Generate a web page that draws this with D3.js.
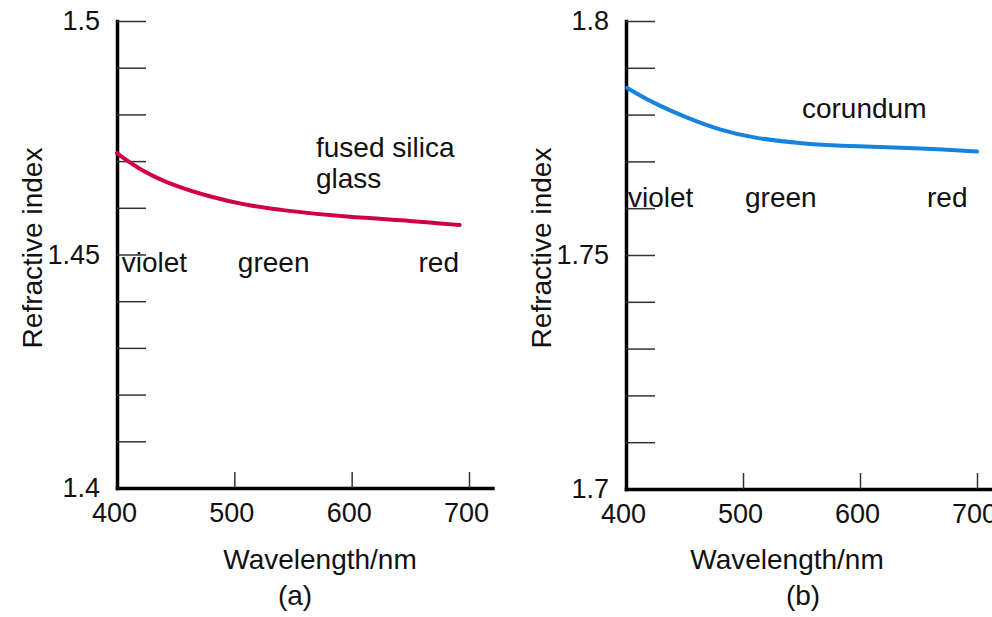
<!DOCTYPE html>
<html lang="en">
<head>
<meta charset="UTF-8">
<title>Refractive index vs wavelength</title>
<script src="https://d3js.org/d3.v7.min.js"></script>
<style>
html, body { margin: 0; padding: 0; background: white; }
svg { display: block; font-family: 'Liberation Sans', Arial, sans-serif; }
.axis .domain { stroke: black; stroke-width: 3.5; stroke-linecap: square; }
.axis line { stroke: #333; stroke-width: 1.5; }
.axis text { font-size: 27px; fill: #111; font-family: 'Liberation Sans', Arial, sans-serif; }
.lbl { font-size: 28px; fill: #111; }
</style>
</head>
<body>
<div id="chart"></div>
<script>

// --------------------------------------
// Data
// --------------------------------------

let wavelengthsA = [400, 422, 451, 479, 507, 539, 596, 652, 692];
let indexA = [1.4717, 1.4677, 1.4645, 1.4624, 1.4607, 1.4595, 1.4580, 1.4572, 1.4563];

let wavelengthsB = [401, 423, 452, 480, 509, 549, 597, 654, 700];
let indexB = [1.7857, 1.7825, 1.7793, 1.7767, 1.7750, 1.7738, 1.7732, 1.7728, 1.7721];

let xTicks = [400, 500, 600, 700];
let yTicksA = [1.40, 1.41, 1.42, 1.43, 1.44, 1.45, 1.46, 1.47, 1.48, 1.49, 1.50];
let yLabelsA = [1.4, 1.45, 1.5];
let yTicksB = [1.70, 1.71, 1.72, 1.73, 1.74, 1.75, 1.76, 1.77, 1.78, 1.79, 1.80];
let yLabelsB = [1.7, 1.75, 1.8];

// colour names placed in data units
let colourNames = ["violet", "green", "red"];
let colourPosA = [404, 503, 657];
let colourPosB = [401.7, 501.7, 657.3];

// --------------------------------------
// SVG
// --------------------------------------

let totalWidth = 992, totalHeight = 617;

let svg = d3.select("#chart").append("svg")
  .attr("width", totalWidth)
  .attr("height", totalHeight);

function panel(opt) {
  let x = d3.scaleLinear().domain([400, 720]).range([opt.left, opt.left + 320 * opt.pxPerNm]);
  let y = d3.scaleLinear().domain(opt.yDomain).range([opt.bottom, 21]);

  // y axis, ticks pointing inward
  svg.append("g")
    .attr("class", "axis")
    .attr("transform", `translate(${opt.left},0)`)
    .call(d3.axisLeft(y)
      .tickValues(opt.yTicks)
      .tickSizeInner(-29)
      .tickSizeOuter(0)
      .tickPadding(17)
      .tickFormat(d => opt.yLabels.some(v => Math.abs(v - d) < 1e-9) ? String(d) : ""));

  // x axis, ticks pointing up
  let xa = svg.append("g")
    .attr("class", "axis")
    .attr("transform", `translate(0,${opt.bottom})`)
    .call(d3.axisBottom(x)
      .tickValues(xTicks)
      .tickSizeInner(-16)
      .tickSizeOuter(0)
      .tickPadding(15)
      .tickFormat(d3.format("d")));
  xa.selectAll(".tick text").attr("dx", -3);
  xa.selectAll(".tick").filter(d => d === 400).select("line").remove();

  // curve
  let pts = opt.wl.map((w, i) => [w, opt.n[i]]);
  svg.append("path")
    .datum(pts)
    .attr("fill", "none")
    .attr("stroke", opt.color)
    .attr("stroke-width", 4)
    .attr("stroke-linecap", "round")
    .attr("d", d3.line().x(d => x(d[0])).y(d => y(d[1])).curve(d3.curveBasis));

  // colour names
  svg.selectAll(null)
    .data(colourNames)
    .join("text")
    .attr("class", "lbl")
    .attr("x", (d, i) => x(opt.colourPos[i]))
    .attr("y", y(opt.colourY))
    .text(d => d);

  // material name
  opt.material.forEach((m, i) => {
    svg.append("text")
      .attr("class", "lbl")
      .attr("x", x(opt.materialPos[0]))
      .attr("y", y(opt.materialPos[1]) + i * 31)
      .text(m);
  });

  // axis titles
  svg.append("text")
    .attr("class", "lbl")
    .attr("text-anchor", "middle")
    .attr("transform", `translate(${opt.left - 75},${248}) rotate(-90)`)
    .text("Refractive index");

  svg.append("text")
    .attr("class", "lbl")
    .attr("text-anchor", "middle")
    .attr("x", opt.xTitle)
    .attr("y", 569)
    .text("Wavelength/nm");

  svg.append("text")
    .attr("class", "lbl")
    .attr("text-anchor", "middle")
    .attr("x", opt.capX)
    .attr("y", 605)
    .text(opt.caption);
}

panel({
  left: 117, bottom: 488, pxPerNm: 1.1733,
  yDomain: [1.4, 1.5], yTicks: yTicksA, yLabels: yLabelsA,
  wl: wavelengthsA, n: indexA, color: "#cf0048",
  colourPos: colourPosA, colourY: 1.4463,
  material: ["fused silica", "glass"], materialPos: [569.6, 1.4709],
  xTitle: 320, capX: 295, caption: "(a)"
});

panel({
  left: 626, bottom: 489, pxPerNm: 1.17,
  yDomain: [1.7, 1.8], yTicks: yTicksB, yLabels: yLabelsB,
  wl: wavelengthsB, n: indexB, color: "#1683dc",
  colourPos: colourPosB, colourY: 1.76026,
  material: ["corundum"], materialPos: [550.4, 1.77927],
  xTitle: 787, capX: 803, caption: "(b)"
});

</script>
</body>
</html>
